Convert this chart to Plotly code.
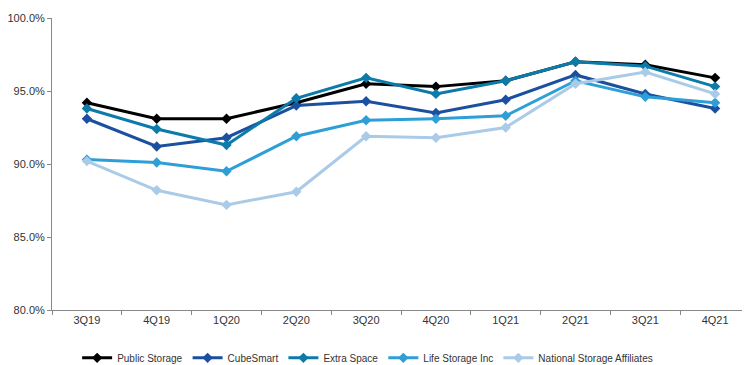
import plotly.graph_objects as go

quarters = ["3Q19", "4Q19", "1Q20", "2Q20", "3Q20", "4Q20", "1Q21", "2Q21", "3Q21", "4Q21"]
public_storage = [94.2, 93.1, 93.1, 94.2, 95.5, 95.3, 95.7, 97.0, 96.8, 95.9]
cubesmart = [93.1, 91.2, 91.8, 94.0, 94.3, 93.5, 94.4, 96.1, 94.8, 93.8]
extra_space = [93.8, 92.4, 91.3, 94.5, 95.9, 94.8, 95.7, 97.0, 96.7, 95.3]
life_storage = [90.3, 90.1, 89.5, 91.9, 93.0, 93.1, 93.3, 95.7, 94.6, 94.2]
nsa = [90.2, 88.2, 87.2, 88.1, 91.9, 91.8, 92.5, 95.5, 96.3, 94.8]

series = [
    ("Public Storage", public_storage, "#000000"),
    ("CubeSmart", cubesmart, "#1B4FA0"),
    ("Extra Space", extra_space, "#0C7BA9"),
    ("Life Storage Inc", life_storage, "#2E9FD6"),
    ("National Storage Affiliates", nsa, "#AACBE8"),
]

fig = go.Figure()
for name, vals, color in series:
    fig.add_trace(go.Scatter(
        x=quarters, y=[v / 100 for v in vals], name=name, mode="lines+markers",
        line=dict(color=color, width=3),
        marker=dict(symbol="diamond", size=8, color=color),
    ))

fig.update_layout(
    width=742, height=357,
    margin=dict(l=44, r=0, t=10, b=55),
    paper_bgcolor="white", plot_bgcolor="white",
    font=dict(family="Liberation Sans, Arial, sans-serif", size=11, color="#333"),
    showlegend=True,
    legend=dict(orientation="h", x=0.036, xanchor="left",
                yref="container", y=0.02, yanchor="middle",
                font=dict(size=10), traceorder="normal", itemwidth=30),
    xaxis=dict(showline=True, linecolor="#888", linewidth=1, showgrid=False,
               ticks="outside", tickson="boundaries", ticklen=4, tickcolor="#888",
               range=[-0.5, 9.5], automargin=False),
    yaxis=dict(range=[0.8, 1.0], dtick=0.05, tickformat=".1%", showline=True,
               linecolor="#888", linewidth=1, showgrid=False, ticks="outside",
               ticklen=4, tickcolor="#888", zeroline=False, automargin=False),
)

fig.write_html("out.html")
